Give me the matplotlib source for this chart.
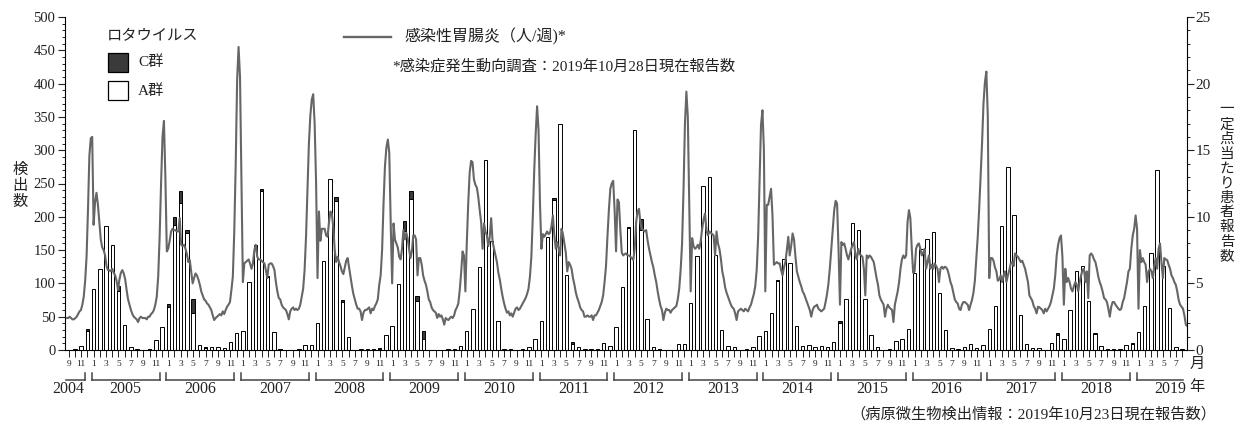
import numpy as np
import matplotlib.pyplot as plt
from matplotlib.lines import Line2D
from matplotlib.patches import Rectangle
from matplotlib.ticker import MultipleLocator

plt.rcParams['font.family'] = ['Liberation Serif', 'Noto Sans CJK JP']

# Rotavirus detections per month, 2004-09 .. 2019-08
rota_a = [
    0, 2, 6, 29,                                          # 2004 Sep-Dec
    91, 121, 186, 158, 88, 37, 4, 2, 0, 1, 15, 35,        # 2005
    65, 188, 220, 175, 55, 8, 3, 5, 4, 3, 12, 26,         # 2006
    28, 102, 157, 238, 109, 27, 1, 0, 0, 1, 7, 7,         # 2007
    40, 133, 257, 224, 72, 20, 0, 2, 1, 2, 2, 22,         # 2008
    36, 99, 179, 227, 74, 16, 0, 0, 0, 1, 2, 6,           # 2009
    28, 62, 125, 286, 163, 43, 2, 1, 0, 2, 4, 16,         # 2010
    43, 170, 225, 339, 112, 9, 4, 2, 1, 2, 10, 6,         # 2011
    35, 94, 183, 330, 180, 46, 4, 1, 0, 0, 9, 9,          # 2012
    71, 141, 246, 260, 143, 30, 6, 5, 0, 1, 4, 21,        # 2013
    28, 55, 103, 137, 130, 36, 6, 8, 4, 6, 4, 12,         # 2014
    41, 76, 191, 180, 77, 23, 4, 0, 1, 14, 16, 31,        # 2015
    116, 152, 167, 177, 86, 30, 3, 2, 5, 9, 3, 8,         # 2016
    31, 66, 186, 275, 202, 52, 9, 3, 3, 0, 11, 23,        # 2017
    17, 60, 118, 126, 74, 24, 6, 2, 1, 2, 8, 9,           # 2018
    27, 66, 146, 270, 126, 63, 4, 1,                      # 2019 Jan-Aug
]
rota_c = [
    0, 0, 0, 3,
    0, 0, 0, 0, 8, 0, 0, 0, 0, 1, 0, 0,
    4, 11, 18, 5, 22, 0, 1, 0, 0, 0, 0, 0,
    0, 0, 0, 3, 2, 0, 1, 0, 0, 0, 0, 0,
    0, 0, 0, 5, 3, 0, 0, 0, 0, 0, 1, 0,
    0, 0, 14, 12, 7, 12, 0, 0, 0, 0, 0, 0,
    0, 0, 0, 0, 0, 1, 0, 0, 0, 0, 0, 0,
    0, 0, 3, 0, 0, 3, 0, 0, 0, 0, 0, 0,
    0, 0, 2, 0, 16, 0, 0, 0, 0, 0, 0, 0,
    0, 0, 0, 0, 0, 0, 0, 0, 0, 0, 0, 0,
    0, 0, 2, 0, 0, 0, 0, 0, 0, 0, 0, 0,
    2, 0, 0, 0, 0, 0, 0, 0, 0, 0, 0, 0,
    0, 0, 0, 0, 0, 0, 0, 0, 0, 0, 0, 0,
    0, 0, 0, 0, 0, 0, 0, 0, 0, 0, 0, 2,
    0, 0, 0, 0, 0, 1, 0, 0, 0, 0, 0, 1,
    0, 0, 0, 0, 0, 0, 0, 0,
]

# Infectious gastroenteritis, cases per sentinel per week
gastro_2004 = [2.4, 2.4, 2.5, 2.4, 2.3, 2.3, 2.4, 2.5, 2.7, 2.9, 3.0, 3.4, 4.0, 5.2, 7.0,
               10.5, 14.6, 15.9, 16.0]   # weeks 35-53
gastro_2005 = [9.4, 11.1, 11.8, 10.9, 9.6, 8.3, 7.7, 7.5, 7.1, 6.3, 6.0, 6.0, 5.9, 6.1, 5.8,
               5.6, 5.2, 4.5, 5.3, 5.8, 6.0, 5.75, 5.3, 4.5, 3.8, 3.4, 3.0, 2.7, 2.5, 2.4,
               2.3, 2.1, 2.4, 2.5, 2.4, 2.4, 2.4, 2.3, 2.5, 2.5, 2.7, 2.8, 3.0, 3.4, 4.0,
               5.5, 8.5, 12.5, 16.0, 17.2, 13.0, 7.4]
gastro_2006 = [7.6, 8.2, 8.9, 9.1, 9.0, 9.0, 8.9, 8.9, 9.9, 7.9, 7.8, 7.9, 7.6, 7.2, 6.6,
               6.75, 5.9, 5.0, 5.4, 5.75, 5.6, 5.3, 4.9, 4.4, 4.1, 3.8, 3.7, 3.5, 3.4, 3.2,
               3.0, 2.6, 2.25, 2.4, 2.5, 2.6, 2.7, 2.6, 2.9, 2.7, 3.0, 3.25, 3.4, 3.6, 4.5,
               5.5, 8.9, 13.9, 20.3, 22.75, 20.5, 12.6]
gastro_2007 = [5.1, 6.5, 6.6, 6.7, 6.8, 6.5, 6.1, 6.5, 7.5, 7.9, 7.0, 6.8, 6.8, 6.7, 6.6,
               6.5, 6.0, 5.4, 6.4, 6.5, 6.5, 6.3, 6.0, 5.1, 4.4, 3.9, 3.8, 3.4, 3.2, 3.1,
               3.0, 2.7, 2.3, 2.9, 3.1, 3.2, 3.0, 3.1, 3.0, 3.1, 3.4, 4.0, 4.6, 6.0, 8.5,
               12.0, 15.5, 17.6, 18.8, 19.2, 17.0, 12.6]
gastro_2008 = [5.4, 10.4, 8.2, 9.1, 9.1, 9.1, 8.6, 8.5, 9.6, 10.4, 10.2, 9.2, 7.5, 6.6, 7.0,
               6.6, 6.3, 5.9, 5.7, 6.2, 6.7, 6.9, 6.2, 5.5, 4.8, 4.2, 3.8, 3.4, 3.1, 3.1,
               2.9, 2.25, 2.8, 3.0, 3.0, 3.1, 3.2, 2.75, 3.1, 3.0, 3.3, 3.5, 3.8, 4.9, 5.6,
               7.5, 11.0, 13.8, 15.2, 15.8, 14.8, 9.5]
gastro_2009 = [5.0, 9.5, 8.3, 8.0, 7.7, 7.0, 6.8, 7.6, 9.0, 8.3, 8.8, 8.4, 7.6, 6.9, 7.4,
               8.6, 8.6, 8.3, 5.6, 6.9, 6.9, 6.4, 5.6, 5.2, 4.9, 4.4, 3.8, 3.6, 3.2, 3.0,
               2.9, 2.8, 2.4, 2.7, 2.5, 2.6, 2.3, 1.9, 2.4, 2.3, 2.25, 2.4, 2.5, 2.4, 2.6,
               3.0, 3.2, 3.5, 4.5, 5.8, 7.4, 7.1, 4.4]
gastro_2010 = [8.0, 11.0, 13.3, 14.2, 14.1, 12.8, 12.4, 12.2, 11.5, 10.5, 9.6, 7.6, 9.5, 8.9,
               8.6, 7.8, 8.5, 9.9, 8.1, 7.6, 7.1, 6.6, 5.8, 5.3, 4.6, 4.0, 3.5, 3.1, 2.8,
               2.9, 2.6, 2.75, 2.5, 2.8, 3.1, 3.2, 3.0, 3.1, 3.3, 3.5, 3.7, 3.9, 4.2, 4.6,
               5.5, 7.0, 10.0, 13.5, 16.2, 18.3, 16.5, 11.0]
gastro_2011 = [7.6, 8.7, 8.5, 8.7, 8.9, 8.7, 8.8, 9.3, 10.1, 8.6, 7.6, 8.1, 7.6, 7.1, 9.1,
               8.7, 8.0, 7.3, 5.9, 6.6, 6.4, 6.1, 5.4, 4.9, 4.3, 3.9, 3.6, 3.2, 3.0, 2.9,
               2.5, 2.5, 2.6, 2.5, 2.5, 2.6, 2.25, 2.6, 2.6, 2.8, 3.0, 3.3, 3.6, 4.1, 5.1,
               6.3, 8.5, 10.5, 12.1, 12.5, 12.7, 10.5]
gastro_2012 = [7.4, 11.3, 11.1, 9.0, 7.3, 7.1, 7.2, 7.25, 7.1, 7.1, 7.0, 6.9, 6.75, 7.6, 9.6,
               10.4, 10.6, 9.5, 9.1, 9.0, 8.9, 9.0, 8.2, 7.6, 7.1, 6.6, 6.2, 5.6, 5.1, 4.4,
               3.8, 3.3, 3.0, 2.25, 2.8, 3.1, 3.0, 3.0, 2.8, 3.0, 3.1, 3.2, 3.3, 3.8, 4.6,
               6.0, 8.0, 12.0, 17.0, 19.4, 17.5, 11.0]
gastro_2013 = [4.4, 8.4, 7.8, 7.6, 7.7, 7.9, 7.6, 8.2, 9.1, 9.8, 10.25, 9.0, 8.6, 8.9, 8.8,
               8.7, 8.6, 7.1, 8.9, 8.0, 7.6, 6.9, 5.9, 5.4, 4.7, 4.3, 4.0, 3.7, 3.4, 3.2,
               3.1, 2.75, 2.25, 2.9, 3.0, 3.1, 3.0, 2.9, 3.1, 3.0, 2.9, 3.2, 3.4, 3.8, 4.2,
               4.8, 6.0, 8.5, 12.6, 16.9, 18.0, 15.1]
gastro_2014 = [4.4, 10.9, 10.9, 11.5, 12.1, 10.1, 6.4, 6.5, 6.6, 6.5, 6.5, 6.0, 5.6, 6.2, 6.6,
               7.5, 8.5, 7.1, 7.8, 8.75, 8.3, 7.0, 5.9, 5.5, 5.1, 4.8, 4.4, 4.2, 3.9, 3.6,
               3.3, 3.0, 2.5, 3.0, 3.25, 3.3, 3.4, 3.1, 3.0, 2.9, 3.0, 3.1, 3.6, 4.2, 5.0,
               6.2, 7.6, 9.0, 10.5, 11.2, 11.0, 7.6]
gastro_2015 = [3.4, 8.1, 7.9, 8.0, 7.6, 7.1, 6.8, 7.2, 7.6, 7.9, 8.1, 7.1, 6.8, 7.6, 7.2,
               7.1, 7.0, 6.1, 4.1, 7.1, 6.9, 7.1, 7.0, 6.8, 6.6, 6.0, 5.4, 4.9, 4.1, 3.8,
               3.6, 3.4, 2.5, 3.1, 3.4, 3.2, 3.1, 3.0, 2.1, 3.4, 3.9, 4.4, 5.1, 6.1, 6.8,
               7.1, 6.9, 7.1, 9.6, 10.5, 9.9, 7.6, 5.8]
gastro_2016 = [5.9, 7.6, 7.9, 8.0, 7.6, 7.1, 7.3, 7.6, 6.1, 6.6, 7.1, 6.1, 6.4, 6.1, 6.5,
               6.3, 6.1, 5.1, 6.1, 6.25, 6.1, 6.25, 6.2, 6.0, 5.6, 5.1, 4.8, 4.3, 3.8, 3.6,
               3.5, 3.1, 3.0, 3.4, 3.6, 3.6, 3.5, 3.4, 3.0, 3.4, 3.75, 4.3, 5.2, 6.8, 8.5,
               10.6, 13.1, 15.5, 18.5, 20.1, 20.9, 17.6]
gastro_2017 = [5.4, 6.9, 6.9, 6.7, 6.2, 5.9, 5.2, 5.3, 5.6, 5.1, 5.6, 5.9, 5.1, 5.6, 6.0,
               6.5, 6.6, 6.3, 7.25, 7.1, 7.0, 6.8, 6.6, 6.7, 6.4, 6.1, 5.6, 5.1, 4.1, 3.9,
               3.7, 3.3, 3.1, 2.75, 3.25, 3.2, 3.1, 3.0, 2.75, 3.1, 2.9, 3.1, 3.3, 3.6, 4.1,
               4.6, 5.6, 7.1, 7.9, 8.4, 8.6, 7.0]
gastro_2018 = [3.4, 6.1, 5.1, 5.4, 5.1, 4.6, 4.4, 4.8, 5.1, 4.9, 4.4, 5.1, 5.6, 6.0, 6.1,
               5.1, 5.9, 3.9, 7.1, 7.25, 7.1, 6.8, 6.6, 6.1, 5.5, 5.1, 4.8, 4.4, 3.9, 3.8,
               3.6, 3.1, 2.5, 3.25, 3.6, 3.6, 3.4, 3.25, 3.1, 3.0, 3.1, 3.6, 3.9, 4.5, 5.1,
               5.9, 6.1, 7.6, 8.6, 9.1, 10.1, 9.1]
gastro_2019 = [3.1, 7.5, 6.6, 6.9, 6.6, 6.4, 5.1, 5.9, 6.1, 5.9, 5.4, 6.3, 6.9, 6.1, 7.6,
               8.0, 6.6, 5.4, 6.9, 6.8, 6.75, 6.4, 6.1, 5.6, 5.4, 5.1, 4.9, 4.4, 3.75, 3.4,
               3.25, 3.1, 2.6, 1.9, 1.8]

gastro_years = [
    (2004, 35, gastro_2004), (2005, 1, gastro_2005), (2006, 1, gastro_2006),
    (2007, 1, gastro_2007), (2008, 1, gastro_2008), (2009, 1, gastro_2009),
    (2010, 1, gastro_2010), (2011, 1, gastro_2011), (2012, 1, gastro_2012),
    (2013, 1, gastro_2013), (2014, 1, gastro_2014), (2015, 1, gastro_2015),
    (2016, 1, gastro_2016), (2017, 1, gastro_2017), (2018, 1, gastro_2018),
    (2019, 1, gastro_2019),
]
long_years = [2004, 2009, 2015]   # 53-week years

years = list(range(2004, 2020))
LINE_GRAY = '#666666'
TEXT = '#222222'

W, H = 1242, 429


def fx(px):
    return px / W


def fy(py):
    return 1 - py / H


def month_pos(year, month):
    # month index, 0 = Sep 2004
    return 12 * (year - 2004) + month - 9


def vertical_text(x, y_first, step, s, size):
    # one character per row, top to bottom
    for k, ch in enumerate(s):
        fig.text(fx(x), fy(y_first + k * step), ch, fontsize=size, ha='center',
                 va='center', color=TEXT)


fig = plt.figure(figsize=(12.42, 4.29), dpi=100)
ax = fig.add_axes([fx(65), fy(350), fx(1187) - fx(65), fy(17) - fy(350)])

# bars
xb = np.arange(len(rota_a))
a = np.array(rota_a)
c = np.array(rota_c)
ax.bar(xb, a, width=0.55, color='white', edgecolor='black', linewidth=0.7, zorder=2)
m = c > 0
ax.bar(xb[m], c[m], bottom=a[m], width=0.55, color='#3a3a3a', edgecolor='black',
       linewidth=0.7, zorder=2)

ax.set_xlim(-0.6, 179.8)
ax.set_ylim(0, 500)
ax.yaxis.set_major_locator(MultipleLocator(50))
ax.yaxis.set_minor_locator(MultipleLocator(10))
ax.tick_params(axis='y', which='major', length=5, width=0.8, labelsize=10.5, pad=2,
               colors=TEXT)
ax.tick_params(axis='y', which='minor', length=2.5, width=0.6)

ax.set_xticks(xb)
ax.set_xticklabels([str((i + 8) % 12 + 1) if ((i + 8) % 12 + 1) % 2 == 1 else ''
                    for i in xb])
ax.tick_params(axis='x', length=5, width=0.7, labelsize=6.8, pad=2, colors=TEXT)

for s in ['top', 'right']:
    ax.spines[s].set_visible(False)
for s in ['left', 'bottom']:
    ax.spines[s].set_linewidth(0.8)

# weekly line on the right axis
ax2 = ax.twinx()
pos_all, val_all = [], []
for year, first_week, vals in gastro_years:
    n = 53 if year in long_years else 52
    wk = np.arange(first_week, first_week + len(vals))
    pos_all.extend(month_pos(year, 1) + (wk - 1) * 12 / n)
    val_all.extend(vals)
ax2.plot(pos_all, val_all, color=LINE_GRAY, lw=1.5, zorder=3)

ax2.set_ylim(0, 25)
ax2.yaxis.set_major_locator(MultipleLocator(5))
ax2.yaxis.set_minor_locator(MultipleLocator(1))
ax2.tick_params(axis='y', which='major', length=5, width=0.8, labelsize=11, pad=1,
                colors=TEXT)
ax2.tick_params(axis='y', which='minor', length=2.5, width=0.6)
for s in ['top', 'left', 'bottom']:
    ax2.spines[s].set_visible(False)
ax2.spines['right'].set_linewidth(0.8)

# year brackets under the month labels
tr = ax.get_xaxis_transform()
yb, yc, yl = -0.090, -0.068, -0.118
for year in years:
    x0 = month_pos(year, 1) - 0.3
    x1 = month_pos(year, 12) - 0.4
    left_cap, right_cap = True, True
    label_x = (x0 + x1) / 2
    if year == 2004:
        x0, left_cap, label_x = -0.4, False, 0.0
    if year == 2019:
        x1, right_cap = 179.1, False
    ax.plot([x0, x1], [yb, yb], transform=tr, clip_on=False, color='#444444', lw=1.1)
    if left_cap:
        ax.plot([x0, x0], [yb, yc], transform=tr, clip_on=False, color='#444444', lw=1.1)
    if right_cap:
        ax.plot([x1, x1], [yb, yc], transform=tr, clip_on=False, color='#444444', lw=1.1)
    ax.text(label_x, yl, str(year), transform=tr, ha='center', va='center',
            fontsize=11.5, color=TEXT)

fig.text(fx(1197), fy(364), '月', fontsize=11, ha='center', va='center', color=TEXT)
fig.text(fx(1197), fy(387), '年', fontsize=11, ha='center', va='center', color=TEXT)

# axis titles, stacked vertically
vertical_text(20, 170, 16, '検出数', 11)
vertical_text(1227, 110, 14.7, '一定点当たり患者報告数', 10.5)

# legend
fig.text(fx(107), fy(37), 'ロタウイルス', fontsize=11, va='center', color=TEXT)
fig.add_artist(Rectangle((fx(108), fy(72)), fx(20), 19 / H, transform=fig.transFigure,
                         facecolor='#3a3a3a', edgecolor='black', lw=0.9))
fig.add_artist(Rectangle((fx(108), fy(100)), fx(20), 19 / H, transform=fig.transFigure,
                         facecolor='white', edgecolor='black', lw=0.9))
fig.text(fx(138), fy(62), 'C群', fontsize=11, va='center', color=TEXT)
fig.text(fx(138), fy(91), 'A群', fontsize=11, va='center', color=TEXT)

fig.add_artist(Line2D([fx(344), fx(391)], [fy(37), fy(37)], transform=fig.transFigure,
                      color=LINE_GRAY, lw=1.7))
fig.text(fx(405), fy(37), '感染性胃腸炎（人/週)*', fontsize=11.5, va='center', color=TEXT)
fig.text(fx(392), fy(66), '*感染症発生動向調査：2019年10月28日現在報告数', fontsize=11,
         va='center', color=TEXT)

fig.text(fx(1216), fy(414), '（病原微生物検出情報：2019年10月23日現在報告数）',
         fontsize=11, ha='right', va='center', color=TEXT)

fig.savefig('out.png', dpi=100)
